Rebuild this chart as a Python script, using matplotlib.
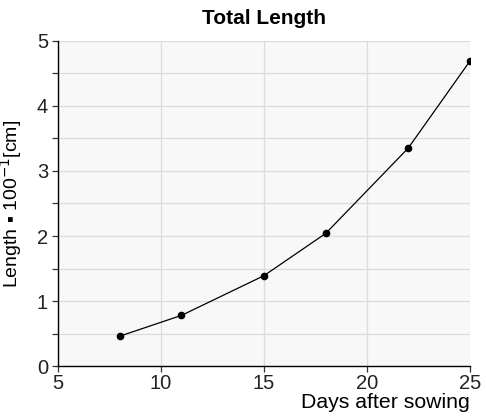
import matplotlib.pyplot as plt
from matplotlib.ticker import MultipleLocator

days = [8, 11, 15, 18, 22, 25]
length = [0.46, 0.78, 1.39, 2.04, 3.35, 4.69]

plt.rcParams['font.family'] = ['Liberation Sans', 'DejaVu Sans']

fig = plt.figure(figsize=(4.86, 4.17), dpi=100)
ax = fig.add_axes([0.119, 0.122, 0.848, 0.780])
ax.set_facecolor('#f8f8f8')

ax.plot(days, length, color='black', lw=0.9, marker='o', ms=4.5, zorder=3)

ax.set_xlim(5, 25)
ax.set_ylim(0, 5)
ax.xaxis.set_major_locator(MultipleLocator(5))
ax.yaxis.set_major_locator(MultipleLocator(1))
ax.yaxis.set_minor_locator(MultipleLocator(0.5))
ax.grid(which='both', color='#dcdcdc', lw=0.9)
ax.set_axisbelow(True)

for s in ['top', 'right']:
    ax.spines[s].set_visible(False)
for s in ['left', 'bottom']:
    ax.spines[s].set_linewidth(1.0)

ax.tick_params(which='both', direction='out', length=4, width=0.9, labelsize=14.5,
               color='#333333', labelcolor='#222222')
ax.tick_params(axis='x', pad=2)
ax.tick_params(axis='y', pad=3)

ax.set_title('Total Length', fontsize=15, fontweight='bold', pad=12)
ax.set_xlabel('Days after sowing', fontsize=15.3, loc='right', labelpad=0)
ax.set_ylabel('Length \u25aa 100$^{-1}$[cm]', fontsize=14, labelpad=9)

fig.savefig('out.png', dpi=100)
